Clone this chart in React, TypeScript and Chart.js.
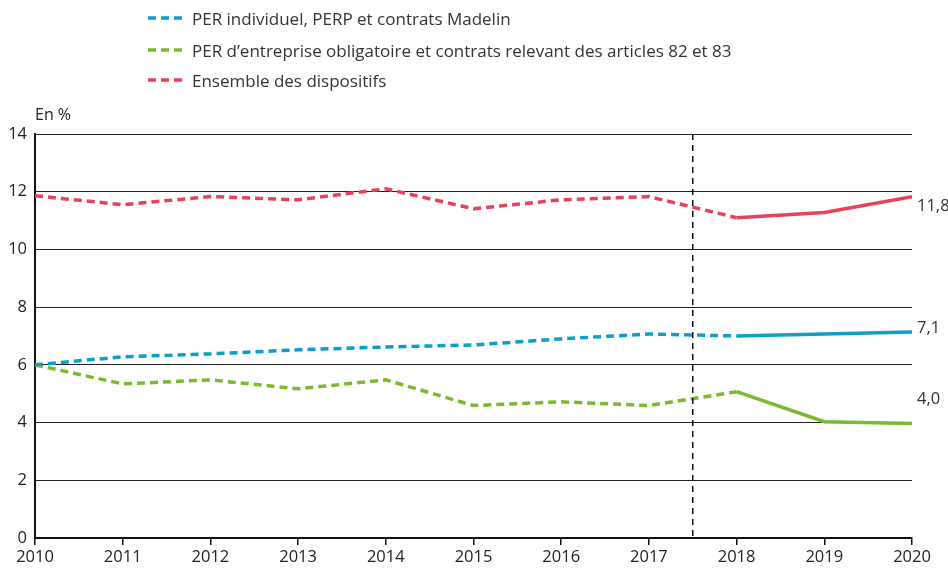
import React, { useEffect, useRef } from "react";
import { Chart, registerables } from "chart.js";

Chart.register(...registerables);

const years = [2010, 2011, 2012, 2013, 2014, 2015, 2016, 2017, 2018, 2019, 2020];
const perIndividuel = [6.0, 6.28, 6.38, 6.52, 6.62, 6.69, 6.9, 7.07, 7.0, 7.07, 7.14];
const perEntreprise = [6.0, 5.34, 5.48, 5.17, 5.48, 4.59, 4.72, 4.59, 5.07, 4.03, 3.97];
const ensemble = [11.86, 11.55, 11.83, 11.72, 12.1, 11.41, 11.72, 11.83, 11.1, 11.28, 11.83];
const seriesNames = [
  "PER individuel, PERP et contrats Madelin",
  "PER d\u2019entreprise obligatoire et contrats relevant des articles 82 et 83",
  "Ensemble des dispositifs",
];
const endLabels = ["7,1", "4,0", "11,8"];
const colors = ["#0e9fc8", "#7bb92f", "#e8415a"];
const breakYear = 2017.5;
const lastDashedIndex = 7;
const yTitle = "En %";

const FONT = "'Open Sans', sans-serif";

export default function App() {
  const ref = useRef<HTMLCanvasElement | null>(null);

  useEffect(() => {
    if (!ref.current) return;
    const seriesData = [perIndividuel, perEntreprise, ensemble];
    const labelOffsets = [-4, -24, 10];
    const overlay = {
      id: "overlay",
      afterDatasetsDraw(chart: any) {
        const { ctx, scales, chartArea } = chart;
        const x = scales.x.getPixelForValue(breakYear);
        ctx.save();
        ctx.strokeStyle = "#111";
        ctx.lineWidth = 1.5;
        ctx.setLineDash([6, 5]);
        ctx.beginPath();
        ctx.moveTo(x, chartArea.top);
        ctx.lineTo(x, chartArea.bottom);
        ctx.stroke();
        ctx.setLineDash([]);
        ctx.font = `16.5px ${FONT}`;
        ctx.fillStyle = "#333";
        ctx.textBaseline = "middle";
        ctx.textAlign = "left";
        seriesData.forEach((d, i) => {
          const v = d[d.length - 1];
          const px = scales.x.getPixelForValue(years[years.length - 1]) + 5;
          const py = scales.y.getPixelForValue(v) + labelOffsets[i];
          ctx.fillText(endLabels[i], px, py);
        });
        ctx.font = `16px ${FONT}`;
        ctx.fillStyle = "#222";
        ctx.fillText(yTitle, chartArea.left, chartArea.top - 19);
        ctx.restore();
      },
    };

    const chart = new Chart(ref.current, {
      type: "line",
      data: {
        datasets: seriesData.map((d, i) => ({
          label: seriesNames[i],
          data: years.map((y, j) => ({ x: y, y: d[j] })),
          borderColor: colors[i],
          backgroundColor: colors[i],
          borderWidth: 3.5,
          pointRadius: 0,
          tension: 0,
          fill: false,
          segment: {
            borderDash: (c: any) => (c.p0DataIndex <= lastDashedIndex ? [8, 5] : undefined),
          },
        })),
      },
      options: {
        responsive: false,
        animation: false,
        layout: { padding: { top: 134, right: 36, left: 0, bottom: 0 } },
        plugins: { legend: { display: false }, tooltip: { enabled: false } },
        scales: {
          x: {
            type: "linear",
            min: 2010,
            max: 2020,
            afterFit: (s: any) => { s.height = 33; },
            ticks: {
              stepSize: 1,
              callback: (v: any) => String(v),
              color: "#222",
              font: { family: FONT, size: 16.5 },
              padding: 2,
              maxRotation: 0,
            },
            grid: { drawOnChartArea: false, drawTicks: true, tickLength: 7, color: "#111", lineWidth: 1.5 },
            border: { color: "#111", width: 2 },
          },
          y: {
            min: 0,
            max: 14,
            afterFit: (s: any) => { s.width = 35; },
            ticks: {
              stepSize: 2,
              color: "#222",
              font: { family: FONT, size: 16.5 },
              padding: 8,
            },
            grid: { color: "#222", lineWidth: 1, drawTicks: false },
            border: { color: "#111", width: 2 },
          },
        },
      },
      plugins: [overlay],
    });
    return () => chart.destroy();
  }, []);

  return (
    <div style={{ position: "absolute", left: 0, top: 0, width: 948, height: 571, background: "#fff" }}>
      <canvas ref={ref} width={948} height={571} style={{ position: "absolute", left: 0, top: 0 }} />
      {seriesNames.map((n, i) => (
        <div
          key={n}
          style={{
            position: "absolute",
            left: 148,
            top: [18, 50, 80][i] - 12,
            height: 24,
            display: "flex",
            alignItems: "center",
            fontFamily: FONT,
            fontSize: 17,
            color: "#333",
            whiteSpace: "nowrap",
          }}
        >
          <svg width={36} height={6} style={{ marginRight: 8 }}>
            <line x1={0} y1={3} x2={36} y2={3} stroke={colors[i]} strokeWidth={3.5} strokeDasharray="8,5" />
          </svg>
          {n}
        </div>
      ))}
    </div>
  );
}
